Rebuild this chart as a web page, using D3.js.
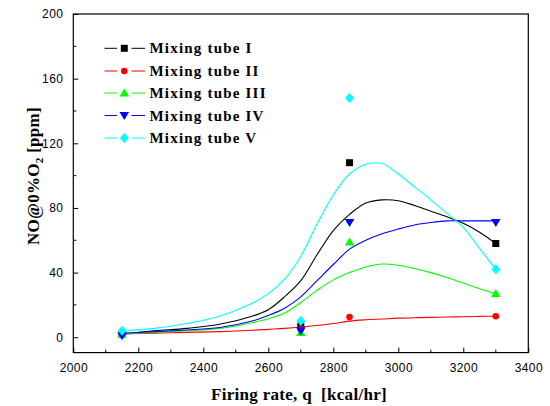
<!DOCTYPE html>
<html><head><meta charset="utf-8">
<script src="https://cdn.jsdelivr.net/npm/d3@7"></script>
<style>body{margin:0;background:#fff}svg{display:block}</style>
</head><body><svg id="c" width="550" height="406"></svg>
<script>
const seriesNames = ["Mixing tube I","Mixing tube II","Mixing tube III","Mixing tube IV","Mixing tube V"];
const seriesColors = ["#000000","#ff0000","#00ff00","#0000ff","#00ffff"];
const seriesSymbols = ["square","circle","triangleUp","triangleDown","diamond"];
const pointX = [2150, 2700, 2850, 3300];
const tube1 = [2, 7, 108, 58];
const tube2 = [2, 5, 12.5, 13];
const tube3 = [2, 3, 59, 27];
const tube4 = [1, 4, 71, 71];
const tube5 = [4, 10, 148, 42];
// smoothed curves
const curveX = [2150,2250,2350,2450,2550,2600,2650,2700,2750,2800,2850,2900,2950,3000,3050,3100,3150,3200,3250,3300];
const curve1 = [2,4,5.5,8,13,17,25,35,51,66,76,83,85,84.5,81.5,78,74.5,70.5,65,58];
const curve2 = [2,2.5,3,3.5,4.3,4.9,5.5,6.3,7.3,8.5,10,10.8,11.3,11.8,12.1,12.3,12.5,12.7,12.9,13];
const curve3 = [2,3,4,5.5,9,11.5,15,21.5,29,35.5,40,43.5,45.3,44.5,42.5,40,37,33.5,30,27];
const curve4 = [2.5,3.5,4.5,6,10,13.5,18,25,35,45,54.5,60,64,67,69.5,71,72,72,72,72];
const curve5 = [4,5.5,8.5,13,21,27,36,50,70,88,101,107,107.5,101,93,85,76.6,68,55,42];
const xTicks = [2000,2200,2400,2600,2800,3000,3200,3400];
const yTicks = [0,40,80,120,160,200];

const pts = [tube1,tube2,tube3,tube4,tube5];
const curves = [curve1,curve2,curve3,curve4,curve5];

const svg = d3.select("#c");
const x = d3.scaleLinear().domain([2000,3400]).range([73.3,528.3]);
const y = d3.scaleLinear().domain([-9.5,200]).range([352.6,14]);
const tickFont = "'Liberation Sans', Arial, sans-serif";
const serif = "'Liberation Serif', 'Times New Roman', serif";

// frame
svg.append("rect").attr("x",x(2000)).attr("y",y(200)).attr("width",x(3400)-x(2000)).attr("height",y(-9.5)-y(200))
  .attr("fill","none").attr("stroke","#000").attr("stroke-width",1.2);

// x axis
const xa = svg.append("g").attr("transform",`translate(0,${y(-9.5)})`)
  .call(d3.axisBottom(x).tickValues(xTicks).tickSize(-5).tickPadding(11).tickFormat(d3.format("d")));
xa.select(".domain").remove();
xa.selectAll("text").attr("font-family",tickFont).attr("font-size",12).attr("letter-spacing","0.4px");
const xMinor = d3.range(2100,3400,200);
svg.append("g").selectAll("line").data(xMinor).join("line")
  .attr("x1",d=>x(d)).attr("x2",d=>x(d)).attr("y1",y(-9.5)).attr("y2",y(-9.5)-3).attr("stroke","#000");

// y axis
const ya = svg.append("g").attr("transform",`translate(${x(2000)},0)`)
  .call(d3.axisLeft(y).tickValues(yTicks).tickSize(-5).tickPadding(10));
ya.select(".domain").remove();
ya.selectAll("text").attr("font-family",tickFont).attr("font-size",12).attr("letter-spacing","0.4px");
const yMinor = d3.range(20,200,40);
svg.append("g").selectAll("line").data(yMinor).join("line")
  .attr("x1",x(2000)).attr("x2",x(2000)+3).attr("y1",d=>y(d)).attr("y2",d=>y(d)).attr("stroke","#000");

// curves
const line = d3.line().x(d=>x(d[0])).y(d=>y(d[1])).curve(d3.curveCatmullRom.alpha(0.5));
curves.forEach((c,i)=>{
  svg.append("path").datum(curveX.map((xv,j)=>[xv,c[j]]))
    .attr("d",line).attr("fill","none").attr("stroke",seriesColors[i]).attr("stroke-width",1.1);
});

// markers
function marker(g, type, cx, cy, color){
  let p;
  if(type==="square") p=`M${cx-3.5},${cy-3.5}h7v7h-7Z`;
  else if(type==="circle") { g.append("circle").attr("cx",cx).attr("cy",cy).attr("r",3.3).attr("fill",color); return; }
  else if(type==="triangleUp") p=`M${cx},${cy-4.5}L${cx+4.8},${cy+3.5}L${cx-4.8},${cy+3.5}Z`;
  else if(type==="triangleDown") p=`M${cx},${cy+4.5}L${cx+4.8},${cy-3.5}L${cx-4.8},${cy-3.5}Z`;
  else p=`M${cx},${cy-5}L${cx+4.5},${cy}L${cx},${cy+5}L${cx-4.5},${cy}Z`;
  g.append("path").attr("d",p).attr("fill",color);
}
const mg = svg.append("g");
pts.forEach((s,i)=>{
  s.forEach((v,j)=>marker(mg, seriesSymbols[i], x(pointX[j]), y(v), seriesColors[i]));
});

// legend
const lg = svg.append("g");
const legY = [48.3,71,93,115.5,138];
seriesNames.forEach((n,i)=>{
  const ly = legY[i];
  lg.append("line").attr("x1",104.5).attr("x2",117).attr("y1",ly).attr("y2",ly).attr("stroke",seriesColors[i]);
  lg.append("line").attr("x1",131.5).attr("x2",145).attr("y1",ly).attr("y2",ly).attr("stroke",seriesColors[i]);
  marker(lg, seriesSymbols[i], 124.3, ly, seriesColors[i]);
  lg.append("text").attr("x",149.5).attr("y",ly+5).attr("font-family",serif).attr("font-weight","bold")
    .attr("font-size",15).attr("letter-spacing","1.2px").text(n);
});

// axis titles
svg.append("text").attr("x",299).attr("y",400).attr("text-anchor","middle")
  .attr("font-family",serif).attr("font-weight","bold").attr("font-size",17).attr("letter-spacing","0.3px").attr("xml:space","preserve")
  .text("Firing rate, q  [kcal/hr]");
const yt = svg.append("text").attr("transform","translate(39,176) rotate(-90)").attr("text-anchor","middle")
  .attr("font-family",serif).attr("font-weight","bold").attr("font-size",17).attr("letter-spacing","0.3px");
yt.append("tspan").text("NO@0%O");
yt.append("tspan").attr("font-size",11).attr("dy",4).text("2");
yt.append("tspan").attr("dy",-4).text(" [ppm]");
</script></body></html>
